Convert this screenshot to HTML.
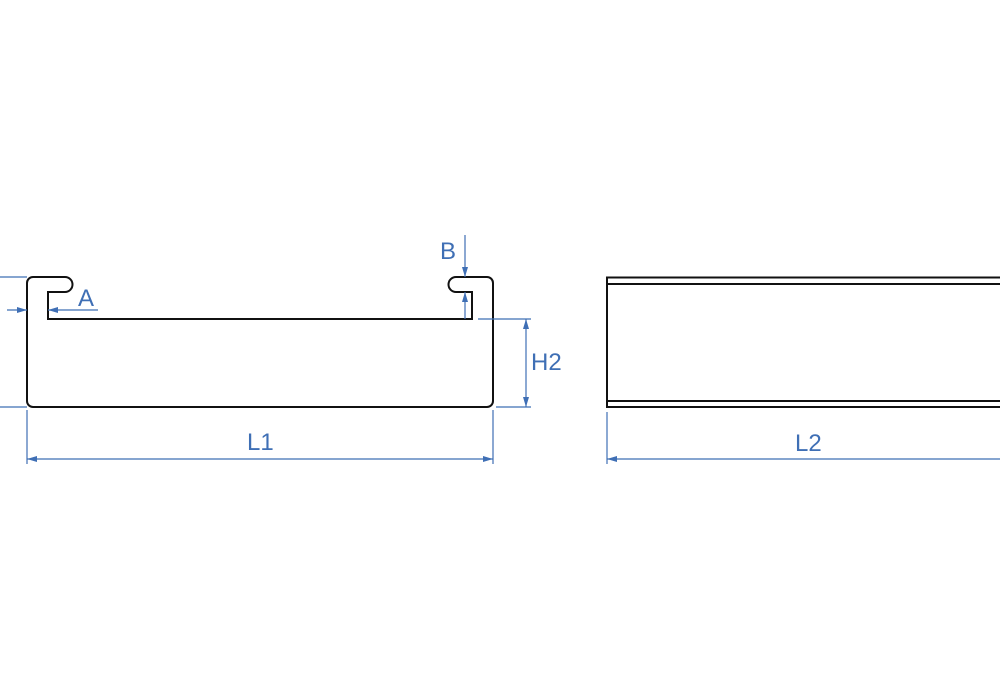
<!DOCTYPE html>
<html><head><meta charset="utf-8"><style>html,body{margin:0;padding:0;background:#fff;width:1000px;height:700px;overflow:hidden}</style></head>
<body>
<svg width="1000" height="700" viewBox="0 0 1000 700" xmlns="http://www.w3.org/2000/svg">
<defs>
<marker id="ar" viewBox="0 0 10 6" refX="10" refY="3" markerWidth="10" markerHeight="6" markerUnits="userSpaceOnUse" orient="auto"><path d="M0,0 L10,3 L0,6 Z" fill="#3f6fb5"/></marker>
</defs>
<!-- profile -->
<path d="M48,319 L48,292 L65,292 A7.5,7.5 0 0 0 65,277 L33,277 A6,6 0 0 0 27,283 L27,401 A6,6 0 0 0 33,407 L487,407 A6,6 0 0 0 493,401 L493,283 A6,6 0 0 0 487,277 L456,277 A7.5,7.5 0 0 0 456,292 L472,292 L472,319 Z" fill="none" stroke="#111" stroke-width="2"/>
<!-- side view -->
<g stroke="#111" stroke-width="2" fill="none">
<path d="M1001,277.5 L607,277.5 L607,407 L1001,407"/>
<line x1="607" y1="284" x2="1001" y2="284"/>
<line x1="607" y1="401" x2="1001" y2="401"/>
</g>
<!-- dimensions -->
<g stroke="#3f6fb5" stroke-width="1.2" fill="none">
<line x1="0" y1="277" x2="27" y2="277"/>
<line x1="0" y1="407" x2="27" y2="407"/>
<line x1="27" y1="410" x2="27" y2="464"/>
<line x1="493" y1="410" x2="493" y2="464"/>
<line x1="607" y1="412" x2="607" y2="464"/>
<line x1="7" y1="310" x2="27" y2="310" marker-end="url(#ar)"/>
<line x1="98" y1="310" x2="48" y2="310" marker-end="url(#ar)"/>
<line x1="465" y1="235" x2="465" y2="277" marker-end="url(#ar)"/>
<line x1="465" y1="319" x2="465" y2="292" marker-end="url(#ar)"/>
<line x1="478" y1="319" x2="531" y2="319"/>
<line x1="496" y1="407" x2="531" y2="407"/>
<line x1="526" y1="363" x2="526" y2="319" marker-end="url(#ar)"/>
<line x1="526" y1="363" x2="526" y2="407" marker-end="url(#ar)"/>
<line x1="260" y1="459" x2="27" y2="459" marker-end="url(#ar)"/>
<line x1="260" y1="459" x2="493" y2="459" marker-end="url(#ar)"/>
<line x1="1001" y1="459" x2="607" y2="459" marker-end="url(#ar)"/>
</g>
<g fill="#3f6fb5" font-family="Liberation Sans, sans-serif" font-size="24">
<text x="78" y="306">A</text>
<text x="440" y="259">B</text>
<text x="531" y="370">H2</text>
<text x="247" y="450">L1</text>
<text x="795" y="451">L2</text>
</g>
</svg>
</body></html>
